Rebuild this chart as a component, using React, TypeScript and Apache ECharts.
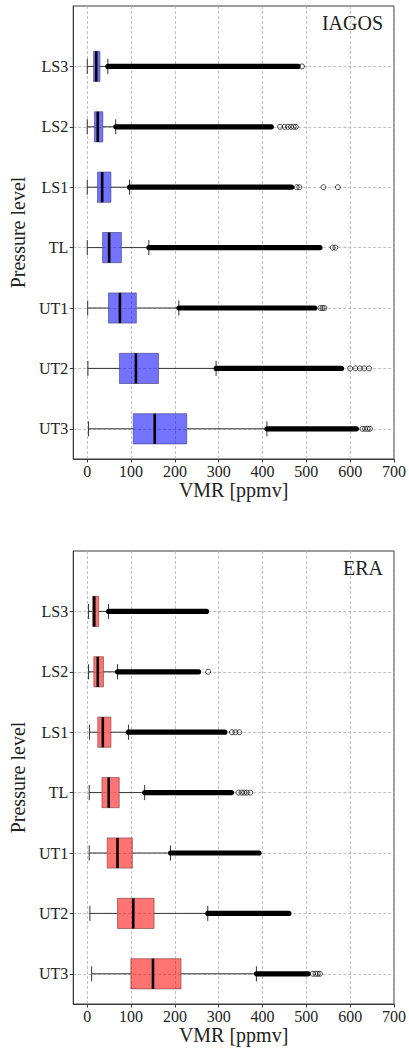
import { useEffect, useRef } from 'react';
import * as echarts from 'echarts';

// Pressure levels, listed top to bottom as drawn on the y axis
const LEVELS = ['LS3', 'LS2', 'LS1', 'TL', 'UT1', 'UT2', 'UT3'];
const X_TICKS = [0, 100, 200, 300, 400, 500, 600, 700];
const Y_TICKS = [1, 2, 3, 4, 5, 6, 7];

// IAGOS box statistics [ppmv]
const IAGOS_LOW = [0, 0, 0, 0, 1, 1.5, 3];
const IAGOS_Q1 = [14.5, 16.5, 23.5, 35, 48.5, 73.5, 105];
const IAGOS_MEDIAN = [20.5, 24, 34, 50, 74.5, 111, 154];
const IAGOS_Q3 = [29, 35.5, 54, 78, 112, 162.5, 227];
const IAGOS_HIGH = [47, 65, 96.5, 140.5, 209, 294, 410];
// outliers: continuous run from the upper whisker up to this value, then sparse points
const IAGOS_DENSE_END = [487, 426, 472, 537, 525, 586, 620];
const IAGOS_SPARSE = [
  [490],
  [440, 450, 458, 465, 471, 476],
  [478, 484, 539, 572],
  [560, 566],
  [532, 537, 541],
  [600, 612, 622, 632, 643],
  [628, 634, 640, 645],
];

// ERA box statistics [ppmv]
const ERA_LOW = [3, 3, 5, 4.5, 4.5, 6, 10];
const ERA_Q1 = [12, 15, 24, 33.5, 45.5, 69, 99.5];
const ERA_MEDIAN = [16, 24, 35.5, 49, 69, 105, 150];
const ERA_Q3 = [26, 37, 54, 73, 103, 152.5, 214];
const ERA_HIGH = [48.5, 69, 94, 131, 190, 275, 386];
const ERA_DENSE_END = [278, 260, 320, 335, 398, 466, 510];
const ERA_SPARSE = [
  [],
  [276],
  [330, 338, 347],
  [345, 352, 358, 364, 372],
  [],
  [],
  [515, 521, 526, 531],
];

const FONT = 'Liberation Serif';
const FRAME = '#3a3a3a';

type Panel = {
  name: string;
  low: number[];
  q1: number[];
  median: number[];
  q3: number[];
  high: number[];
  denseEnd: number[];
  sparse: number[][];
  fill: string;
  edge: string;
  top: number;
  nameGap: number;
};

const PANELS: Panel[] = [
  {
    name: 'IAGOS', low: IAGOS_LOW, q1: IAGOS_Q1, median: IAGOS_MEDIAN, q3: IAGOS_Q3,
    high: IAGOS_HIGH, denseEnd: IAGOS_DENSE_END, sparse: IAGOS_SPARSE,
    fill: 'rgba(0, 0, 255, 0.55)', edge: 'rgba(60, 60, 120, 0.6)', top: 6, nameGap: 19,
  },
  {
    name: 'ERA', low: ERA_LOW, q1: ERA_Q1, median: ERA_MEDIAN, q3: ERA_Q3,
    high: ERA_HIGH, denseEnd: ERA_DENSE_END, sparse: ERA_SPARSE,
    fill: 'rgba(255, 0, 0, 0.55)', edge: 'rgba(120, 60, 60, 0.6)', top: 551, nameGap: 17,
  },
];

const position = (i: number) => LEVELS.length - i;

const textStyle = (size: number) => ({ fontFamily: FONT, fontSize: size, color: '#222' });

function buildOption() {
  const grids: any[] = [];
  const xAxes: any[] = [];
  const yAxes: any[] = [];
  const series: any[] = [];
  const titles: any[] = [];

  PANELS.forEach((p, gi) => {
    grids.push({
      left: 72, top: p.top, width: 322, height: 453,
      show: true, borderColor: FRAME, borderWidth: 1, backgroundColor: 'transparent',
    });
    xAxes.push({
      type: 'value', gridIndex: gi, min: -32, max: 700,
      name: 'VMR [ppmv]', nameLocation: 'middle', nameGap: p.nameGap,
      nameTextStyle: { ...textStyle(20), verticalAlign: 'top' },
      axisLine: { show: true, onZero: false, lineStyle: { color: FRAME, width: 1 } },
      axisTick: { show: true, customValues: X_TICKS, length: 3.5, lineStyle: { color: FRAME } },
      axisLabel: { customValues: X_TICKS, ...textStyle(16), margin: 4 },
      splitLine: { show: true, lineStyle: { type: [3, 2], color: '#b0b0b0', width: 0.8 } },
    });
    yAxes.push({
      type: 'value', gridIndex: gi, min: 0.5, max: 8,
      name: 'Pressure level', nameLocation: 'middle', nameGap: 33, nameRotate: 90,
      nameTextStyle: textStyle(20),
      axisLine: { show: true, onZero: false, lineStyle: { color: FRAME, width: 1 } },
      axisTick: { show: true, customValues: Y_TICKS, length: 3.5, lineStyle: { color: FRAME } },
      axisLabel: {
        customValues: Y_TICKS, ...textStyle(16), margin: 5,
        formatter: (v: number) => LEVELS[LEVELS.length - v] ?? '',
      },
      splitLine: { show: true, lineStyle: { type: [3, 2], color: '#b0b0b0', width: 0.8 } },
    });
    titles.push({
      text: p.name, right: 26, top: p.top + 7, padding: 0,
      textStyle: { ...textStyle(20), fontWeight: 'normal' },
    });

    const boxData = LEVELS.map((_, i) => [
      position(i), p.low[i], p.q1[i], p.median[i], p.q3[i], p.high[i], p.denseEnd[i],
    ]);
    series.push({
      type: 'custom', xAxisIndex: gi, yAxisIndex: gi,
      encode: { x: [1, 2, 3, 4, 5, 6], y: 0 },
      data: boxData,
      renderItem: (_params: any, api: any) => {
        const pos = api.value(0);
        const low = api.value(1), q1 = api.value(2), med = api.value(3);
        const q3 = api.value(4), high = api.value(5), dense = api.value(6);
        const px = (v: number) => api.coord([v, pos])[0];
        const y = api.coord([0, pos])[1];
        const unit = api.size([0, 1])[1];
        const bh = unit * 0.5;
        const ch = unit * 0.25;
        const whisker = { stroke: '#333', lineWidth: 1 };
        return {
          type: 'group',
          children: [
            { type: 'line', shape: { x1: px(low), y1: y, x2: px(q1), y2: y }, style: whisker },
            { type: 'line', shape: { x1: px(q3), y1: y, x2: px(high), y2: y }, style: whisker },
            { type: 'line', shape: { x1: px(low), y1: y - ch / 2, x2: px(low), y2: y + ch / 2 }, style: whisker },
            { type: 'line', shape: { x1: px(high), y1: y - ch / 2, x2: px(high), y2: y + ch / 2 }, style: whisker },
            {
              type: 'rect',
              shape: { x: px(q1), y: y - bh / 2, width: px(q3) - px(q1), height: bh },
              style: { fill: p.fill, stroke: p.edge, lineWidth: 1 },
            },
            {
              type: 'line',
              shape: { x1: px(med), y1: y - bh / 2, x2: px(med), y2: y + bh / 2 },
              style: { stroke: '#000', lineWidth: 2.6 },
            },
            {
              type: 'rect',
              shape: { x: px(high) - 2.5, y: y - 2.6, width: px(dense) - px(high) + 2.5, height: 5.2, r: 2.6 },
              style: { fill: '#000' },
            },
          ],
        };
      },
    });

    const sparseData: number[][] = [];
    p.sparse.forEach((vals, i) => vals.forEach((v) => sparseData.push([v, position(i)])));
    series.push({
      type: 'scatter', xAxisIndex: gi, yAxisIndex: gi,
      symbol: 'circle', symbolSize: 5,
      itemStyle: { color: 'rgba(255,255,255,0)', borderColor: '#000', borderWidth: 0.9 },
      data: sparseData,
      silent: true,
    });
  });

  return {
    animation: false,
    backgroundColor: '#fff',
    textStyle: { fontFamily: FONT },
    title: titles,
    grid: grids,
    xAxis: xAxes,
    yAxis: yAxes,
    series,
  };
}

export default function App() {
  const ref = useRef<HTMLDivElement>(null);
  useEffect(() => {
    if (!ref.current) return;
    const chart = echarts.init(ref.current, undefined, { renderer: 'svg' });
    chart.setOption(buildOption());
    return () => chart.dispose();
  }, []);
  return (
    <div
      ref={ref}
      style={{ position: 'absolute', left: 0, top: 0, width: 409, height: 1049, background: '#fff' }}
    />
  );
}
